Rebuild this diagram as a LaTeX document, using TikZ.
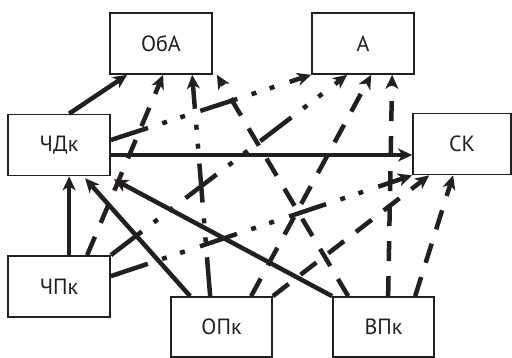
\documentclass[tikz,border=0pt]{standalone}
\usepackage{fontspec}
\setmainfont{PT Sans}
\usetikzlibrary{arrows.meta}
\definecolor{ink}{RGB}{35,31,32}
\begin{document}
\begin{tikzpicture}[x=1pt,y=-1pt,
  box/.style={draw=ink, line width=1.7pt, minimum width=102pt, minimum height=61pt, inner sep=0pt, fill=white, text=ink, font=\fontsize{22}{24}\selectfont},
  link/.style={draw=ink, line width=4.5pt, -{Stealth[length=14pt,width=13pt,inset=4pt]}},
  dsh/.style={link, dash pattern=on 20pt off 15pt},
  ddot/.style={link, dash pattern=on 39pt off 15pt on 5pt off 14pt on 5pt off 16pt},
]
\useasboundingbox (0,0) rectangle (512,358);
\node[box] (oba) at (161,43.5) {ОбА};
\node[box] (a) at (363,43.5) {А};
\node[box] (chdk) at (59,145) {ЧДк};
\node[box, minimum width=98pt] (sk) at (462,144) {СК};
\node[box] (chpk) at (59,286.5) {ЧПк};
\node[box, minimum width=101pt, minimum height=60pt] (opk) at (221.5,327) {ОПк};
\node[box, minimum width=101pt, minimum height=60pt] (vpk) at (383.5,327) {ВПк};
% solid
\draw[link] ([xshift=62pt]chdk.north west) -- ([xshift=18pt]oba.south west);
\draw[link] ([yshift=-10pt]chdk.east) -- ([yshift=-11pt]sk.west);
\draw[link] ([xshift=62pt]chpk.north west) -- ([xshift=62pt]chdk.south west);
\draw[link] ([xshift=20pt]opk.north west) -- ([xshift=78pt,yshift=-2pt]chdk.south west);
\draw[link] (vpk.north west) -- ([xshift=3pt,yshift=-3pt]chdk.south east);
% dash-dot-dot
\draw[ddot] ([yshift=5pt]chdk.east) -- (a.south west);
\draw[ddot] (chpk.north east) -- ([xshift=36pt]a.south west);
\draw[ddot] ([yshift=-21pt]chpk.north east) -- (sk.south west);
\draw[ddot] ([xshift=40pt]opk.north west) -- ([xshift=83pt]oba.south west);
% dashed
\draw[dsh] ([xshift=80pt]chpk.north west) -- ([xshift=54pt]oba.south west);
\draw[dsh] ([xshift=81pt]opk.north west) -- ([xshift=60pt]a.south west);
\draw[dsh] (opk.north east) -- ([xshift=17pt]sk.south west);
\draw[dsh] ([xshift=16pt]vpk.north west) -- ([xshift=4pt]oba.south east);
\draw[dsh] ([xshift=56pt]vpk.north west) -- ([xshift=81pt]a.south west);
\draw[dsh] ([xshift=83pt]vpk.north west) -- ([xshift=41pt]sk.south west);
\end{tikzpicture}
\end{document}
